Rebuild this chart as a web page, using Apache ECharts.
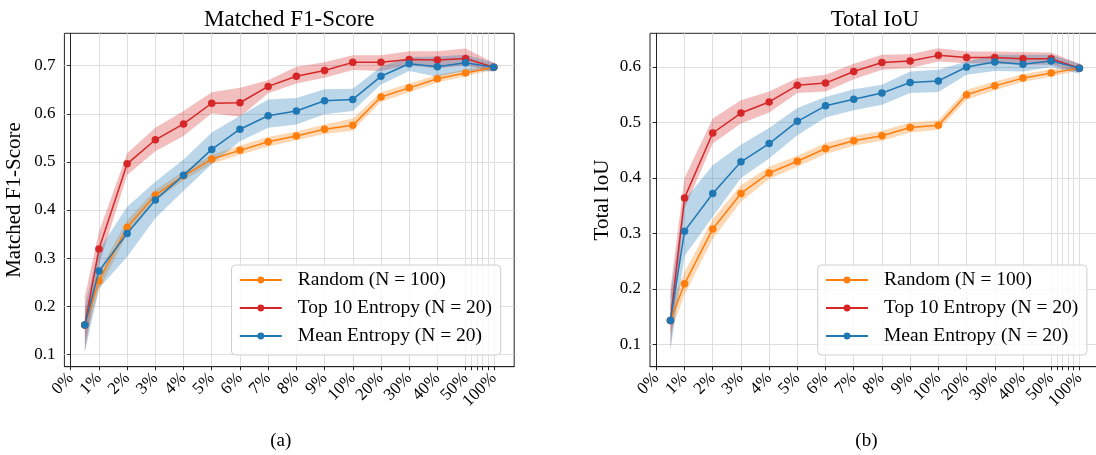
<!DOCTYPE html>
<html><head><meta charset="utf-8">
<script src="https://cdn.jsdelivr.net/npm/echarts@6/dist/echarts.min.js"></script>
<style>html,body{margin:0;padding:0;background:#fff}#c{width:1096px;height:455px}</style>
</head><body><div id="c"></div>
<script>
// ---------- data ----------
const xPercents = [0.5, 1, 2, 3, 4, 5, 6, 7, 8, 9, 10, 20, 30, 40, 50, 100];
const xTickValues = [0, 1, 2, 3, 4, 5, 6, 7, 8, 9, 10, 20, 30, 40, 50, 100];
const xTickLabels = ['0%', '1%', '2%', '3%', '4%', '5%', '6%', '7%', '8%', '9%', '10%', '20%', '30%', '40%', '50%', '100%'];
const xMinorTicks = [60, 70, 80, 90];
const f1YTicks = [0.1, 0.2, 0.3, 0.4, 0.5, 0.6, 0.7];
const iouYTicks = [0.1, 0.2, 0.3, 0.4, 0.5, 0.6];
const seriesNames = ['Random (N = 100)', 'Top 10 Entropy (N = 20)', 'Mean Entropy (N = 20)'];
const chartTitles = ['Matched F1-Score', 'Total IoU'];
const captions = ['(a)', '(b)'];

// Matched F1-Score
const f1Random   = [0.161, 0.253, 0.364, 0.431, 0.471, 0.506, 0.524, 0.542, 0.554, 0.568, 0.576, 0.635, 0.654, 0.673, 0.685, 0.697];
const f1RandomLo = [0.130, 0.233, 0.350, 0.420, 0.462, 0.496, 0.515, 0.532, 0.545, 0.558, 0.565, 0.625, 0.645, 0.665, 0.678, 0.692];
const f1RandomHi = [0.190, 0.273, 0.378, 0.442, 0.480, 0.515, 0.534, 0.552, 0.563, 0.578, 0.590, 0.645, 0.663, 0.681, 0.692, 0.702];
const f1Top      = [0.161, 0.319, 0.496, 0.546, 0.579, 0.622, 0.623, 0.657, 0.678, 0.690, 0.707, 0.707, 0.713, 0.712, 0.715, 0.697];
const f1TopLo    = [0.105, 0.285, 0.473, 0.522, 0.554, 0.601, 0.594, 0.643, 0.663, 0.675, 0.691, 0.689, 0.701, 0.694, 0.701, 0.688];
const f1TopHi    = [0.220, 0.355, 0.518, 0.571, 0.606, 0.645, 0.654, 0.670, 0.698, 0.707, 0.722, 0.722, 0.730, 0.730, 0.736, 0.706];
const f1Mean     = [0.161, 0.273, 0.351, 0.421, 0.472, 0.526, 0.568, 0.596, 0.606, 0.627, 0.630, 0.678, 0.704, 0.698, 0.706, 0.697];
const f1MeanLo   = [0.105, 0.237, 0.303, 0.383, 0.440, 0.495, 0.543, 0.571, 0.578, 0.599, 0.606, 0.661, 0.689, 0.677, 0.689, 0.688];
const f1MeanHi   = [0.200, 0.317, 0.407, 0.459, 0.505, 0.561, 0.596, 0.630, 0.633, 0.651, 0.652, 0.698, 0.718, 0.719, 0.723, 0.706];

// Total IoU
const iouRandom   = [0.143, 0.209, 0.308, 0.372, 0.409, 0.430, 0.453, 0.467, 0.476, 0.491, 0.495, 0.550, 0.566, 0.580, 0.589, 0.598];
const iouRandomLo = [0.120, 0.190, 0.290, 0.357, 0.398, 0.420, 0.443, 0.458, 0.467, 0.482, 0.487, 0.541, 0.558, 0.573, 0.583, 0.594];
const iouRandomHi = [0.170, 0.230, 0.326, 0.387, 0.420, 0.440, 0.463, 0.476, 0.485, 0.500, 0.504, 0.559, 0.574, 0.587, 0.596, 0.602];
const iouTop      = [0.143, 0.364, 0.481, 0.517, 0.537, 0.567, 0.571, 0.592, 0.608, 0.611, 0.621, 0.617, 0.617, 0.615, 0.615, 0.598];
const iouTopLo    = [0.090, 0.345, 0.462, 0.498, 0.518, 0.553, 0.556, 0.578, 0.595, 0.598, 0.610, 0.607, 0.606, 0.604, 0.604, 0.590];
const iouTopHi    = [0.200, 0.400, 0.507, 0.540, 0.556, 0.580, 0.586, 0.606, 0.622, 0.623, 0.634, 0.628, 0.628, 0.627, 0.626, 0.606];
const iouMean     = [0.143, 0.304, 0.372, 0.429, 0.462, 0.502, 0.530, 0.542, 0.553, 0.572, 0.575, 0.600, 0.609, 0.605, 0.611, 0.598];
const iouMeanLo   = [0.090, 0.259, 0.330, 0.400, 0.435, 0.477, 0.509, 0.522, 0.532, 0.553, 0.555, 0.586, 0.593, 0.592, 0.600, 0.588];
const iouMeanHi   = [0.190, 0.360, 0.423, 0.460, 0.490, 0.526, 0.546, 0.560, 0.568, 0.592, 0.595, 0.610, 0.622, 0.622, 0.622, 0.606];

// ---------- scale: linear 0-10%, then one unit per 10% to 50%, then one unit for 50-100% ----------
function pos(p) {
  if (p <= 10) return p;
  if (p <= 50) return 10 + (p - 10) / 10;
  return 14 + (p - 50) / 50;
}

const FONT = '"Liberation Serif", "Times New Roman", serif';
const colors = ['#ff7f0e', '#d62728', '#1f77b4'];
const bandColors = ['rgba(255,127,14,0.3)', 'rgba(214,39,40,0.3)', 'rgba(31,119,180,0.3)'];

const charts = [
  { means: [f1Random, f1Top, f1Mean], los: [f1RandomLo, f1TopLo, f1MeanLo], his: [f1RandomHi, f1TopHi, f1MeanHi],
    yTicks: f1YTicks, yMin: 0.0742, yMax: 0.7674, gridLeft: 64.4, legendLeft: 231.5 },
  { means: [iouRandom, iouTop, iouMean], los: [iouRandomLo, iouTopLo, iouMeanLo], his: [iouRandomHi, iouTopHi, iouMeanHi],
    yTicks: iouYTicks, yMin: 0.0596, yMax: 0.6608, gridLeft: 650, legendLeft: 817.7 }
];

const GRID_W = 449.8, GRID_TOP = 33.3, GRID_H = 333.4;
const tickPos = xTickValues.map(pos).concat(xMinorTicks.map(pos));
const labelPos = xTickValues.map(pos);

function xLabel(v) {
  for (let i = 0; i < xTickValues.length; i++) if (Math.abs(pos(xTickValues[i]) - v) < 1e-6) return xTickLabels[i];
  return '';
}

const grid = [], xAxis = [], yAxis = [], series = [], legend = [], title = [], graphic = [];
charts.forEach((c, g) => {
  grid.push({ left: c.gridLeft, top: GRID_TOP, width: GRID_W, height: GRID_H, show: true,
    borderColor: '#222', borderWidth: 1, backgroundColor: 'transparent', outerBoundsMode: 'none', containLabel: false });
  xAxis.push({ type: 'value', gridIndex: g, min: -0.225, max: 15.725,
    axisLine: { show: true, onZero: false, lineStyle: { color: '#222', width: 1 } },
    axisTick: { show: true, length: 3.5, customValues: tickPos, lineStyle: { color: '#222', width: 1 } },
    axisLabel: { customValues: labelPos, rotate: 45, formatter: xLabel, fontFamily: FONT, fontSize: 17, color: '#000', margin: 9, hideOverlap: false },
    splitLine: { show: true, lineStyle: { color: '#dedede', width: 1 } } });
  yAxis.push({ type: 'value', gridIndex: g, min: c.yMin, max: c.yMax,
    name: chartTitles[g], nameLocation: 'middle', nameGap: g === 0 ? 39 : 37,
    nameTextStyle: { fontFamily: FONT, fontSize: 21, color: '#000' },
    axisLine: { show: true, lineStyle: { color: '#222', width: 1 } },
    axisTick: { show: true, length: 3.5, customValues: c.yTicks, lineStyle: { color: '#222', width: 1 } },
    axisLabel: { customValues: c.yTicks, formatter: v => v.toFixed(1), fontFamily: FONT, fontSize: 17, color: '#000', margin: 9 },
    splitLine: { show: true, lineStyle: { color: '#dedede', width: 1 } } });
  for (let k = 0; k < 3; k++) {
    const lo = c.los[k], hi = c.his[k], fill = bandColors[k];
    series.push({ type: 'custom', xAxisIndex: g, yAxisIndex: g, silent: true, z: 1,
      data: xPercents.map((p, i) => [pos(p), lo[i], hi[i]]),
      renderItem: function (params, api) {
        if (params.dataIndex !== 0) return null;
        const upper = [], lower = [];
        for (let i = 0; i < xPercents.length; i++) {
          upper.push(api.coord([pos(xPercents[i]), hi[i]]));
          lower.push(api.coord([pos(xPercents[i]), lo[i]]));
        }
        return { type: 'polygon', shape: { points: upper.concat(lower.reverse()) }, style: { fill: fill } };
      } });
  }
  for (let k = 0; k < 3; k++) {
    series.push({ type: 'line', name: seriesNames[k], xAxisIndex: g, yAxisIndex: g, z: 3 + k,
      symbol: 'circle', symbolSize: 7.5, showSymbol: true,
      lineStyle: { width: 1.5, color: colors[k] }, itemStyle: { color: colors[k] },
      data: xPercents.map((p, i) => [pos(p), c.means[k][i]]) });
  }
  legend.push({ data: seriesNames, orient: 'vertical', left: c.legendLeft, top: 265, z: 10,
    itemWidth: 42, itemHeight: 8.5, itemGap: 8, padding: [5, 8.6, 9, 7.3],
    backgroundColor: 'rgba(255,255,255,0.8)', borderColor: '#cfcfcf', borderWidth: 1, borderRadius: 4,
    selectedMode: false,
    textStyle: { fontFamily: FONT, fontSize: 19.5, color: '#000', padding: [0, 0, 0, 11] } });
  const cx = c.gridLeft + GRID_W / 2;
  title.push({ text: chartTitles[g], left: cx, top: 8, textAlign: 'center', padding: 0,
    textStyle: { fontFamily: FONT, fontSize: 23, fontWeight: 'normal', color: '#000' } });
  graphic.push({ type: 'text', x: cx - 8.5, y: 441.5,
    style: { text: captions[g], font: '19px ' + FONT, fill: '#000', textAlign: 'center', textVerticalAlign: 'middle' } });
});

const chart = echarts.init(document.getElementById('c'), null, { renderer: 'canvas' });
chart.setOption({ animation: false, backgroundColor: '#fff', grid, xAxis, yAxis, series, legend, title, graphic });
</script></body></html>
